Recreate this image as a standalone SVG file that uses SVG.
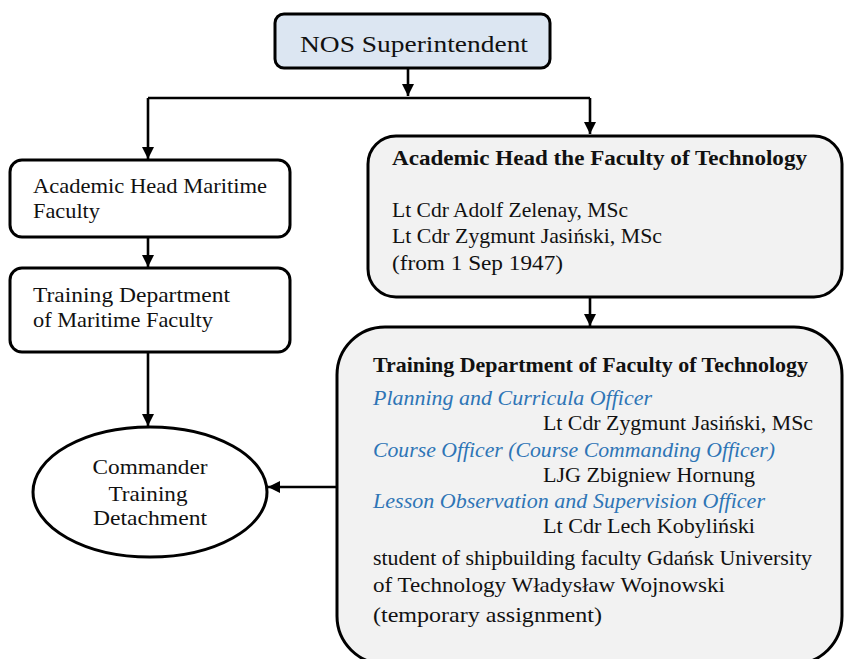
<svg xmlns="http://www.w3.org/2000/svg" width="845" height="659" viewBox="0 0 845 659">
<defs>
<marker id="ah" viewBox="0 0 10 10" refX="10" refY="5" markerWidth="4.8" markerHeight="4.8" orient="auto" markerUnits="strokeWidth">
<path d="M0,0 L10,5 L0,10 z" fill="#000"/>
</marker>
</defs>
<style>
text{font-family:"Liberation Serif","DejaVu Serif",serif;font-size:21px;fill:#111;}
.b{font-weight:bold;}
.i{font-style:italic;fill:#2e75b6;}
.box{stroke:#000;stroke-width:3;}
.c{fill:none;stroke:#000;stroke-width:2.6;}
</style>
<rect width="845" height="659" fill="#fff"/>
<g id="connectors">
<path class="c" d="M408,68 V96" marker-end="url(#ah)"/>
<path class="c" d="M148,98 H590"/>
<path class="c" d="M148,98 V159" marker-end="url(#ah)"/>
<path class="c" d="M590,98 V134" marker-end="url(#ah)"/>
<path class="c" d="M148,237 V267" marker-end="url(#ah)"/>
<path class="c" d="M148,352 V426" marker-end="url(#ah)"/>
<path class="c" d="M590,297 V326" marker-end="url(#ah)"/>
<path class="c" d="M337,487 H268" marker-end="url(#ah)"/>
</g>
<g id="nos">
<rect class="box" x="275" y="14" width="275" height="54" rx="9" fill="#dce6f2"/>
<text x="300" y="52" textLength="228" lengthAdjust="spacingAndGlyphs" style="font-size:23px">NOS Superintendent</text>
</g>
<g id="maritime-head">
<rect class="box" x="10" y="160" width="280" height="77" rx="12" fill="#fff"/>
<text x="33" y="193" textLength="234" lengthAdjust="spacingAndGlyphs">Academic Head Maritime</text>
<text x="33" y="218" textLength="67" lengthAdjust="spacingAndGlyphs">Faculty</text>
</g>
<g id="maritime-training">
<rect class="box" x="10" y="268" width="280" height="84" rx="12" fill="#fff"/>
<text x="33" y="302" textLength="197" lengthAdjust="spacingAndGlyphs">Training Department</text>
<text x="33" y="327" textLength="180" lengthAdjust="spacingAndGlyphs">of Maritime Faculty</text>
</g>
<g id="commander">
<ellipse class="box" cx="150" cy="492" rx="117" ry="65" fill="#fff"/>
<text x="150" y="474" text-anchor="middle" textLength="115" lengthAdjust="spacingAndGlyphs">Commander</text>
<text x="148" y="501" text-anchor="middle" textLength="79" lengthAdjust="spacingAndGlyphs">Training</text>
<text x="150" y="525" text-anchor="middle" textLength="114" lengthAdjust="spacingAndGlyphs">Detachment</text>
</g>
<g id="tech-head">
<rect class="box" x="368" y="136" width="474" height="161" rx="28" fill="#f2f2f2"/>
<text class="b" x="392" y="165" textLength="415" lengthAdjust="spacingAndGlyphs">Academic Head the Faculty of Technology</text>
<text x="392" y="217" textLength="236" lengthAdjust="spacingAndGlyphs">Lt Cdr Adolf Zelenay, MSc</text>
<text x="392" y="243" textLength="270" lengthAdjust="spacingAndGlyphs">Lt Cdr Zygmunt Jasiński, MSc</text>
<text x="392" y="270" textLength="171" lengthAdjust="spacingAndGlyphs">(from 1 Sep 1947)</text>
</g>
<g id="tech-training">
<rect class="box" x="337" y="327" width="505" height="337" rx="48" fill="#f2f2f2"/>
<text class="b" x="373" y="372" textLength="435" lengthAdjust="spacingAndGlyphs">Training Department of Faculty of Technology</text>
<text class="i" x="373" y="405" textLength="279" lengthAdjust="spacingAndGlyphs">Planning and Curricula Officer</text>
<text x="543" y="430" textLength="270" lengthAdjust="spacingAndGlyphs">Lt Cdr Zygmunt Jasiński, MSc</text>
<text class="i" x="373" y="457" textLength="402" lengthAdjust="spacingAndGlyphs">Course Officer (Course Commanding Officer)</text>
<text x="543" y="482" textLength="212" lengthAdjust="spacingAndGlyphs">LJG Zbigniew Hornung</text>
<text class="i" x="373" y="508" textLength="392" lengthAdjust="spacingAndGlyphs">Lesson Observation and Supervision Officer</text>
<text x="543" y="533" textLength="212" lengthAdjust="spacingAndGlyphs">Lt Cdr Lech Kobyliński</text>
<text x="373" y="565" textLength="439" lengthAdjust="spacingAndGlyphs">student of shipbuilding faculty Gdańsk University</text>
<text x="373" y="592" textLength="352" lengthAdjust="spacingAndGlyphs">of Technology Władysław Wojnowski</text>
<text x="373" y="622" textLength="229" lengthAdjust="spacingAndGlyphs">(temporary assignment)</text>
</g>
</svg>
